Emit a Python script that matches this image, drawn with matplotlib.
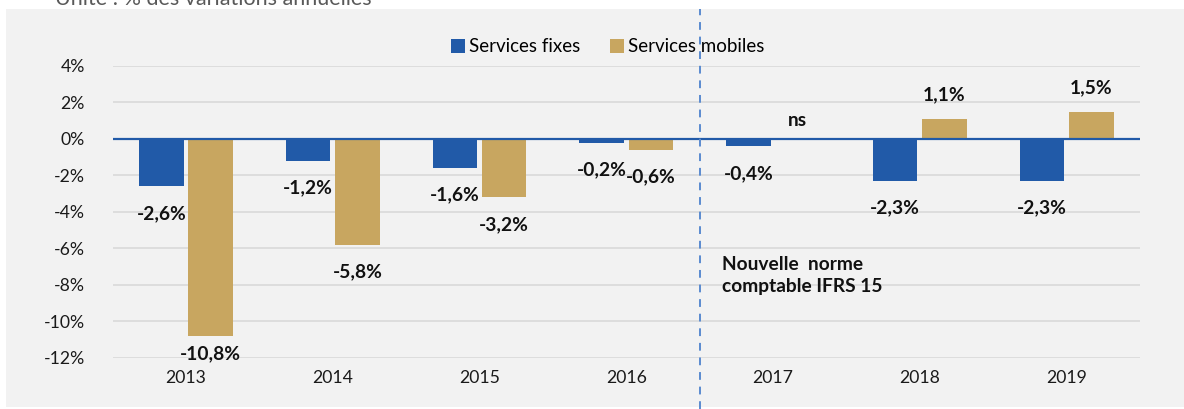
import matplotlib
matplotlib.use("Agg")
import matplotlib.pyplot as plt
from matplotlib.lines import Line2D
from matplotlib.patches import Rectangle
import numpy as np

plt.rcParams['font.family'] = ['Lato', 'DejaVu Sans']

years = ["2013", "2014", "2015", "2016", "2017", "2018", "2019"]
fixes = [-2.6, -1.2, -1.6, -0.2, -0.4, -2.3, -2.3]
mobiles = [-10.8, -5.8, -3.2, -0.6, 0.0, 1.1, 1.5]
mobile_labels = ["-10,8%", "-5,8%", "-3,2%", "-0,6%", "ns", "1,1%", "1,5%"]
fixes_labels = ["-2,6%", "-1,2%", "-1,6%", "-0,2%", "-0,4%", "-2,3%", "-2,3%"]
yticks = [4, 2, 0, -2, -4, -6, -8, -10, -12]

C_FIX = "#215AA8"
C_MOB = "#C8A660"
BG = "#F2F2F2"

W, H = 1184, 409
fig = plt.figure(figsize=(W / 100, H / 100), dpi=100)
fig.patch.set_facecolor("white")
fig.patches.append(Rectangle((6 / W, 2 / H), 1, 1 - 11 / H, transform=fig.transFigure,
                             facecolor=BG, edgecolor="none", zorder=-10))

ax = fig.add_axes([112.6 / W, 51.3 / H, (1140 - 112.6) / W, (357.7 - 66) / H])
ax.set_facecolor(BG)
ax.patch.set_alpha(0)

x = np.arange(len(years))
bw = 0.303
off = 0.168
ax.bar(x - off, fixes, bw, color=C_FIX, label="Services fixes", zorder=3)
ax.bar(x + off, mobiles, bw, color=C_MOB, label="Services mobiles", zorder=3)

ax.set_xlim(-0.5, len(years) - 0.5)
ax.set_ylim(-12, 4)
ax.set_yticks(yticks)
ax.set_yticklabels([f"{v}%" for v in yticks])
ax.set_xticks(x)
ax.set_xticklabels(years)
ax.tick_params(axis='both', length=0, labelsize=12.7, colors="#1a1a1a")
ax.tick_params(axis='y', pad=20)
ax.tick_params(axis='x', pad=9)
for s in ax.spines.values():
    s.set_visible(False)
ax.grid(axis='y', color="#D9D9D9", linewidth=1.2, zorder=0)
ax.axhline(0, color=C_FIX, linewidth=1.6, zorder=4)

lab_kw = dict(ha='center', va='center', fontsize=13.8, fontweight='bold', color="#111111",
              textcoords='offset points', zorder=5)
for i, (v, t) in enumerate(zip(fixes, fixes_labels)):
    ax.annotate(t, (x[i] - off, v), xytext=(0, -19.5), **lab_kw)
for i, (v, t) in enumerate(zip(mobiles, mobile_labels)):
    if v > 0 or t == "ns":
        dy = 17.5 if v > 0 else 13
    elif v < -10:
        dy = -13
    else:
        dy = -19.5
    ax.annotate(t, (x[i] + off, v), xytext=(0, dy), **lab_kw)

ax.text(3.65, -7.5, "Nouvelle  norme\ncomptable IFRS 15", ha='left', va='center',
        fontsize=13.8, fontweight='bold', color="#111111", linespacing=1.35)

# dashed separator
xd = ax.transData.transform((3.5, 0))[0]
fx = fig.transFigure.inverted().transform((xd, 0))[0]
fig.add_artist(Line2D([fx, fx], [0, 1 - 9 / H], transform=fig.transFigure,
                      color="#5A8BD0", linestyle=(0, (4, 3.5)), linewidth=1.4, zorder=6))

leg = ax.legend(loc='center', bbox_to_anchor=(608 / W, 1 - 47 / H), bbox_transform=fig.transFigure,
                ncol=2, frameon=False, fontsize=13.5, handlelength=0.7, handleheight=0.7,
                handletextpad=0.25, columnspacing=1.6)

fig.text(55 / W, 1 - 5 / H, "Unité : % des variations annuelles", ha='left', va='baseline',
         fontsize=15.5, color="#595959")

fig.savefig("out.png", dpi=100, facecolor=fig.get_facecolor())
